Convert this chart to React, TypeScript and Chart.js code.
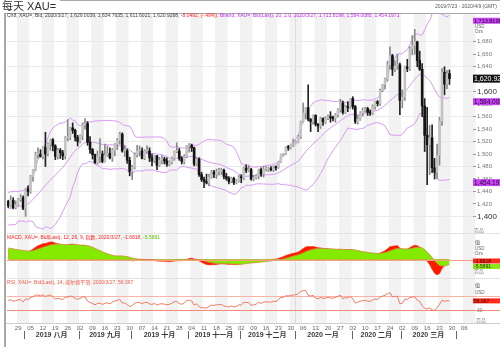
import React, { useEffect, useRef } from 'react';
import { Chart, registerables } from 'chart.js';

Chart.register(...registerables);

const FONT = '"Liberation Sans", "Noto Sans CJK SC", Arial, sans-serif';

// every weekday of the visible range is one slot on the x axis
const rangeStart = '2019-07-23';
const rangeEnd = '2020-04-09';

// closes before the visible range (2019-05-20 .. 2019-07-22), used only to seed the indicators
const warmupClose = [
  1277, 1273, 1274, 1283, 1284, 1285, 1279, 1280, 1288, 1305,
  1327, 1325, 1333, 1337, 1341, 1327, 1327, 1334, 1342, 1341, 1340, 1346, 1360, 1389, 1400, 1419, 1423, 1408, 1410, 1409,
  1385, 1410, 1418, 1416, 1400, 1395, 1397, 1419, 1404, 1415, 1413, 1405, 1426, 1446, 1426, 1424,
];

const openPrices = [
  1424, 1417, 1426, 1414, 1419, 1427, 1430, 1413, 1444, 1440,
  1464, 1474, 1500, 1500, 1496, 1511, 1500, 1516, 1523, 1513,
  1496, 1506, 1502, 1497, 1526, 1527, 1542, 1538, 1527, 1520,
  1529, 1547, 1549, 1519, 1507, 1499, 1486, 1497, 1500, 1488,
  1498, 1501, 1494, 1506, 1516, 1522, 1532, 1505, 1505, 1490,
  1472, 1479, 1499, 1505, 1505, 1493, 1505, 1505, 1494, 1489,
  1497, 1482, 1490, 1492, 1489, 1484, 1487, 1493, 1504, 1505,
  1493, 1488, 1496, 1513, 1514, 1510, 1484, 1492, 1467, 1459,
  1456, 1454, 1463, 1471, 1468, 1472, 1472, 1474, 1464, 1461,
  1456, 1461, 1454, 1457, 1463, 1462, 1477, 1474, 1475, 1460,
  1462, 1465, 1475, 1468, 1476, 1476, 1476, 1475, 1479, 1478,
  1487, 1499, 1500, 1511, 1510, 1515, 1517, 1519, 1528, 1552,
  1566, 1574, 1556, 1552, 1562, 1548, 1545, 1557, 1552, 1557,
  1560, 1558, 1557, 1563, 1571, 1582, 1567, 1576, 1575, 1589,
  1576, 1552, 1556, 1566, 1570, 1573, 1567, 1566, 1576, 1584,
  1581, 1602, 1611, 1620, 1643, 1658, 1636, 1641, 1643, 1586,
  1591, 1640, 1637, 1669, 1674, 1680, 1650, 1636, 1577, 1530,
  1515, 1526, 1478, 1471, 1498, 1553, 1631, 1612, 1629.0039,
];
const highPrices = [
  1426, 1433, 1430, 1425, 1429, 1435, 1433, 1445, 1449, 1466,
  1475, 1503, 1510, 1507, 1512, 1535, 1518, 1524, 1525, 1515,
  1509, 1509, 1506, 1528, 1555, 1543, 1550, 1540, 1530, 1531,
  1550, 1557, 1552, 1528, 1509, 1500, 1505, 1525, 1505, 1516,
  1513, 1510, 1509, 1517, 1525, 1535, 1534, 1514, 1508, 1495,
  1482, 1502, 1514, 1513, 1510, 1507, 1513, 1510, 1500, 1498,
  1498, 1495, 1498, 1495, 1494, 1489, 1495, 1505, 1518, 1509,
  1496, 1499, 1514, 1517, 1516, 1511, 1494, 1494, 1471, 1463,
  1468, 1468, 1474, 1474, 1476, 1477, 1477, 1476, 1469, 1464,
  1463, 1463, 1459, 1466, 1467, 1479, 1483, 1482, 1477, 1466,
  1467, 1476, 1478, 1480, 1480, 1479, 1480, 1481, 1481, 1488,
  1500, 1501, 1512, 1514, 1516, 1524, 1521, 1530, 1553, 1582,
  1575, 1611, 1557, 1563, 1563, 1549, 1559, 1558, 1560, 1563,
  1568, 1561, 1565, 1573, 1588, 1585, 1578, 1584, 1589, 1592,
  1578, 1562, 1568, 1574, 1575, 1575, 1571, 1579, 1585, 1586,
  1604, 1612, 1622, 1649, 1672, 1660, 1650, 1660, 1646, 1603,
  1641, 1652, 1672, 1690, 1700, 1681, 1665, 1645, 1589, 1575,
  1546, 1547, 1493, 1516, 1559, 1637, 1640, 1634, 1634.7635,
];
const lowPrices = [
  1414, 1415, 1412, 1412, 1417, 1424, 1411, 1400, 1433, 1437,
  1456, 1473, 1493, 1495, 1492, 1480, 1497, 1506, 1505, 1491,
  1492, 1493, 1491, 1492, 1521, 1523, 1533, 1521, 1513, 1518,
  1523, 1540, 1514, 1501, 1492, 1485, 1484, 1486, 1486, 1487,
  1496, 1492, 1488, 1497, 1507, 1516, 1503, 1496, 1485, 1465,
  1459, 1476, 1495, 1497, 1492, 1491, 1502, 1488, 1481, 1486,
  1475, 1480, 1484, 1484, 1480, 1481, 1484, 1490, 1502, 1490,
  1484, 1484, 1494, 1503, 1504, 1481, 1481, 1464, 1456, 1446,
  1452, 1449, 1461, 1462, 1461, 1466, 1467, 1460, 1458, 1452,
  1454, 1451, 1452, 1455, 1454, 1459, 1470, 1472, 1458, 1457,
  1460, 1460, 1464, 1463, 1473, 1472, 1473, 1472, 1474, 1477,
  1486, 1497, 1499, 1506, 1508, 1512, 1516, 1518, 1525, 1551,
  1556, 1553, 1536, 1548, 1545, 1536, 1541, 1546, 1549, 1555,
  1551, 1553, 1551, 1559, 1567, 1564, 1565, 1568, 1573, 1572,
  1549, 1548, 1554, 1561, 1567, 1562, 1562, 1563, 1572, 1577,
  1578, 1600, 1604, 1617, 1636, 1626, 1632, 1636, 1563, 1574,
  1586, 1632, 1634, 1659, 1660, 1640, 1634, 1560, 1504, 1451,
  1467, 1470, 1460, 1460, 1482, 1546, 1595, 1605, 1611.6021,
];
const closePrices = [
  1417, 1426, 1414, 1419, 1427, 1430, 1413, 1444, 1440, 1464,
  1474, 1500, 1500, 1496, 1511, 1500, 1516, 1523, 1513, 1496,
  1506, 1502, 1497, 1526, 1527, 1542, 1538, 1527, 1520, 1529,
  1547, 1549, 1519, 1507, 1499, 1486, 1497, 1500, 1488, 1498,
  1501, 1494, 1506, 1516, 1522, 1532, 1505, 1505, 1490, 1472,
  1479, 1499, 1505, 1505, 1493, 1505, 1505, 1494, 1489, 1497,
  1482, 1490, 1492, 1489, 1484, 1487, 1493, 1504, 1505, 1493,
  1488, 1496, 1513, 1514, 1510, 1484, 1492, 1467, 1459, 1456,
  1454, 1463, 1471, 1468, 1472, 1472, 1474, 1464, 1461, 1456,
  1461, 1454, 1457, 1463, 1462, 1477, 1474, 1475, 1460, 1462,
  1465, 1475, 1468, 1476, 1476, 1476, 1475, 1479, 1478, 1487,
  1499, 1500, 1511, 1510, 1515, 1517, 1519, 1528, 1552, 1566,
  1574, 1556, 1552, 1562, 1548, 1545, 1557, 1552, 1557, 1560,
  1558, 1557, 1563, 1571, 1582, 1567, 1576, 1575, 1589, 1576,
  1552, 1556, 1566, 1570, 1573, 1567, 1566, 1576, 1584, 1581,
  1602, 1611, 1620, 1643, 1658, 1636, 1641, 1643, 1586, 1591,
  1640, 1637, 1669, 1674, 1680, 1650, 1636, 1577, 1530, 1515,
  1526, 1478, 1471, 1498, 1553, 1631, 1612, 1629, 1620.9288,
];

const priceTicks = [1400, 1420, 1440, 1460, 1480, 1500, 1520, 1540, 1560, 1580, 1600, 1620, 1640, 1660, 1680];
const monthLabels = ['2019 八月', '2019 九月', '2019 十月', '2019 十一月', '2019 十二月', '2020 一月', '2020 二月', '2020 三月'];

const titleText = '每天 XAU=';
const rangeText = '2019/7/23 - 2020/4/9 (GMT)';
const priceLegend = 'Ch8, XAU=, Bid, 2020/3/27, 1,629.0039, 1,634.7635, 1,611.6021, 1,620.9288, ';
const changeLegend = '-8.0492, (-.49%), ';
const bandLegend = 'Bband, XAU=, Bid(Last), 20, 2.0, 2020/3/27, 1,713.8198, 1,584.0085, 1,454.1971';
const macdLegend = 'MACD, XAU=, Bid(Last), 12, 26, 9, 指数, 2020/3/27, -1.6818, ';
const signalLegend = '-5.5891';
const rsiLegend = 'RSI, XAU=, Bid(Last), 14, 威尔德平滑, 2020/3/27, 56.067';
const bandLast = [1713.8198, 1584.0085, 1454.1971];
const bandLastText = ['1,713.8198', '1,584.0085', '1,454.1971'];
const closeLast = 1620.9288;
const closeLastText = '1,620.92';
const macdLast = -1.6818;
const rsiLast = 56.067;
const rsiLevels = [70, 30];

// ---------- axis slots ----------
function buildDates() {
  const out: Date[] = [];
  const d = new Date(rangeStart + 'T00:00:00Z');
  const end = new Date(rangeEnd + 'T00:00:00Z');
  while (d <= end) {
    const w = d.getUTCDay();
    if (w !== 0 && w !== 6) out.push(new Date(d.getTime()));
    d.setUTCDate(d.getUTCDate() + 1);
  }
  return out;
}
const dates = buildDates();
const N = dates.length;
const labels = dates.map((d) => d.toISOString().slice(0, 10));
const mondays: number[] = [];
dates.forEach((d, i) => { if (d.getUTCDay() === 1) mondays.push(i); });
const monthStarts: number[] = [];
dates.forEach((d, i) => { if (i > 0 && d.getUTCMonth() !== dates[i - 1].getUTCMonth()) monthStarts.push(i); });
const yearStart = dates.findIndex((d) => d.getUTCFullYear() === 2020);

// ---------- indicators named in the chart legends ----------
const full = [...warmupClose, ...closePrices];
const W = warmupClose.length;
const padN = (a: any[]) => { const o: any[] = new Array(N).fill(null); a.forEach((v, i) => { o[i] = v; }); return o; };

const bbU: number[] = [], bbM: number[] = [], bbL: number[] = [];
closePrices.forEach((_, i) => {
  const j = W + i;
  const win = full.slice(j - 19, j + 1);
  const m = win.reduce((s, v) => s + v, 0) / 20;
  const sd = Math.sqrt(win.reduce((s, v) => s + (v - m) * (v - m), 0) / 20);
  bbM.push(m); bbU.push(m + 2 * sd); bbL.push(m - 2 * sd);
});

let e12 = full[0], e26 = full[0];
const macdFull: number[] = [];
full.forEach((v) => { e12 = v * (2 / 13) + e12 * (11 / 13); e26 = v * (2 / 27) + e26 * (25 / 27); macdFull.push(e12 - e26); });
let sg = macdFull[0];
const sigFull: number[] = [];
macdFull.forEach((v) => { sg = v * 0.2 + sg * 0.8; sigFull.push(sg); });
const macdVals = macdFull.slice(W);
const sigVals = sigFull.slice(W);

const rsiFull: (number | null)[] = [];
let ag = 0, al = 0;
for (let i = 0; i < full.length; i++) {
  if (i === 0) { rsiFull.push(null); continue; }
  const ch = full[i] - full[i - 1];
  const g = Math.max(ch, 0), l = Math.max(-ch, 0);
  if (i <= 14) { ag += g / 14; al += l / 14; rsiFull.push(i === 14 ? 100 - 100 / (1 + ag / al) : null); }
  else { ag = (ag * 13 + g) / 14; al = (al * 13 + l) / 14; rsiFull.push(100 - 100 / (1 + ag / al)); }
}
const rsiVals = rsiFull.slice(W);

const upCandle = closePrices.map((c, i) => c >= openPrices[i]);

const decorPlugin: any = {
  id: 'decor',
  beforeDraw(chart: any) {
    const { ctx, chartArea: ca } = chart;
    const slot = (ca.right - ca.left) / N;
    ctx.save();
    ctx.fillStyle = '#ffffff';
    ctx.fillRect(0, 0, chart.width, chart.height);
    ctx.fillStyle = '#f2f2f2';
    mondays.forEach((m, k) => { if (k % 2 === 0) ctx.fillRect(ca.left + m * slot, ca.top, 5 * slot, ca.bottom - ca.top); });
    ctx.fillStyle = '#dcdcdc';
    ctx.fillRect(Math.round(ca.left + yearStart * slot), ca.top, 1, ca.bottom - ca.top);
    const my = chart.scales.macd, ry = chart.scales.rsi;
    ctx.fillStyle = '#e2e2e2';
    ctx.fillRect(ca.left, Math.round(my.top), chart.width - ca.left, 1);
    ctx.fillRect(ca.left, Math.round(ry.top), chart.width - ca.left, 1);
    ctx.restore();
  },
  beforeDatasetsDraw(chart: any) {
    const { ctx, chartArea: ca } = chart;
    const ry = chart.scales.rsi;
    ctx.save();
    rsiLevels.forEach((lv, k) => {
      ctx.fillStyle = k === 0 ? '#f7b3a6' : '#f28b78';
      ctx.fillRect(ca.left, Math.round(ry.getPixelForValue(lv)), chart.width - ca.left, 1);
    });
    ctx.restore();
  },
  afterDatasetsDraw(chart: any) {
    const { ctx, chartArea: ca } = chart;
    const my = chart.scales.macd;
    ctx.save();
    ctx.fillStyle = '#f3a27f';
    ctx.fillRect(ca.left, Math.round(my.getPixelForValue(0)), chart.width - ca.left, 1);
    ctx.restore();
  },
  afterDraw(chart: any) {
    const { ctx, chartArea: ca } = chart;
    const slot = (ca.right - ca.left) / N;
    const y = chart.scales.y, my = chart.scales.macd, ry = chart.scales.rsi;
    ctx.save();
    const txt = (s: string, x: number, yy: number, font: string, color: string, align: any = 'left') => {
      ctx.font = font; ctx.fillStyle = color; ctx.textAlign = align; ctx.textBaseline = 'middle'; ctx.fillText(s, x, yy);
      return ctx.measureText(s).width;
    };
    const box = (yy: number, h: number, bg: string, s: string, font: string, color: string) => {
      ctx.fillStyle = bg; ctx.fillRect(473, yy - h / 2, 27, h);
      txt(s, 474, yy + 0.4, font, color);
    };
    // frame
    ctx.fillStyle = '#a8a8a8';
    ctx.fillRect(4, 13, 2, chart.height - 13);
    ctx.fillRect(4, 13, chart.width - 4, 1);
    ctx.fillRect(60, 0, chart.width - 60, 1);
    ctx.fillStyle = '#cfcfcf';
    ctx.fillRect(6, ca.bottom, chart.width - 6, 1);

    // header
    txt(titleText, 2, 6.5, '11px ' + FONT, '#333');
    txt(rangeText, 497, 6.5, '5px ' + FONT, '#555', 'right');
    let x = 7;
    x += txt(priceLegend, x, 15.5, '5px ' + FONT, '#444');
    x += txt(changeLegend, x, 15.5, '5px ' + FONT, '#ff2020');
    txt(bandLegend, x, 15.5, '5px ' + FONT, '#c030f0');
    x = 7;
    x += txt(macdLegend, x, my.top + 5, '5px ' + FONT, '#ff2020');
    txt(signalLegend, x, my.top + 5, '5px ' + FONT, '#5cc000');
    txt(rsiLegend, 7, ry.top + 5, '5px ' + FONT, '#f05a45');

    // right side of the price panel
    txt('USD', 475, 27, '4.5px ' + FONT, '#666');
    txt('Ozs', 475, 31.5, '4.5px ' + FONT, '#666');
    box(y.getPixelForValue(bandLast[0]), 6, '#c846f0', bandLastText[0], '5.5px ' + FONT, '#2a0040');
    box(y.getPixelForValue(closeLast), 8, '#111111', closeLastText, '7px ' + FONT, '#ffffff');
    box(y.getPixelForValue(bandLast[1]), 7, '#c846f0', bandLastText[1], '6.5px ' + FONT, '#2a0040');
    box(y.getPixelForValue(bandLast[2]), 7, '#c846f0', bandLastText[2], '6.5px ' + FONT, '#2a0040');

    // right side of the MACD panel
    txt('百品', 474, my.top - 2, '5px ' + FONT, '#888');
    txt('值', 475, my.top + 10, '5px ' + FONT, '#444');
    txt('USD', 475, my.top + 16, '4.5px ' + FONT, '#666');
    txt('Ozs', 475, my.top + 21, '4.5px ' + FONT, '#666');
    const mY = my.getPixelForValue(macdLast);
    box(mY + 0.5, 5, '#ff2a1a', '-1.6818', '5px ' + FONT, '#3a0000');
    box(mY + 6, 5, '#8ee51a', '-5.5891', '5px ' + FONT, '#1d3a00');
    txt('百品', 474, my.bottom - 6, '5px ' + FONT, '#888');

    // right side of the RSI panel
    txt('值', 475, ry.top + 8, '5px ' + FONT, '#444');
    txt('USD', 475, ry.top + 14.5, '4.5px ' + FONT, '#666');
    box(ry.getPixelForValue(rsiLast), 5, '#ff2a1a', '56.067', '5px ' + FONT, '#3a0000');
    txt('30', 477, ry.getPixelForValue(30) + 1, '5px ' + FONT, '#777');
    txt('百品', 476, ry.bottom - 2, '5px ' + FONT, '#888');

    // month row
    ctx.fillStyle = '#666';
    monthStarts.forEach((m) => { ctx.fillRect(Math.round(ca.left + m * slot), ca.bottom + 8, 1, 8); });
    monthLabels.forEach((s, k) => {
      const a = ca.left + monthStarts[k] * slot, b = ca.left + monthStarts[k + 1] * slot;
      txt(s, (a + b) / 2, ca.bottom + 12, 'bold 7px ' + FONT, '#3a3a3a', 'center');
    });
    ctx.restore();
  },
};

export default function App() {
  const ref = useRef<HTMLCanvasElement>(null);
  useEffect(() => {
    document.body.style.margin = '0';
    const wickColors = upCandle.map((u) => (u ? '#8a8a8a' : '#222222'));
    const bodyColors = upCandle.map((u) => (u ? '#c4c4c4' : '#141414'));
    const chart = new Chart(ref.current as HTMLCanvasElement, {
      type: 'bar',
      data: {
        labels,
        datasets: [
          { type: 'bar', data: padN(closePrices.map((_, i) => [openPrices[i], closePrices[i]])), backgroundColor: bodyColors, barThickness: 2, grouped: false, minBarLength: 1, yAxisID: 'y', order: 0 } as any,
          { type: 'bar', data: padN(closePrices.map((_, i) => [lowPrices[i], highPrices[i]])), backgroundColor: wickColors, barThickness: 1, grouped: false, yAxisID: 'y', order: 1 } as any,
          { type: 'line', data: padN(bbU), borderColor: '#d79af5', borderWidth: 1, pointRadius: 0, fill: false, yAxisID: 'y', order: 2 } as any,
          { type: 'line', data: padN(bbM), borderColor: '#d79af5', borderWidth: 1, pointRadius: 0, fill: false, yAxisID: 'y', order: 2 } as any,
          { type: 'line', data: padN(bbL), borderColor: '#d79af5', borderWidth: 1, pointRadius: 0, fill: false, yAxisID: 'y', order: 2 } as any,
          { type: 'line', data: padN(macdVals), borderColor: '#ff1a00', backgroundColor: '#ff1a00', borderWidth: 0.6, pointRadius: 0, fill: 'origin', yAxisID: 'macd', order: 4 } as any,
          { type: 'line', data: padN(sigVals), borderColor: '#d08a40', backgroundColor: '#84ea00', borderWidth: 0.8, pointRadius: 0, fill: 'origin', yAxisID: 'macd', order: 3 } as any,
          { type: 'line', data: padN(rsiVals), borderColor: '#f27a62', borderWidth: 1, pointRadius: 0, fill: false, yAxisID: 'rsi', order: 2 } as any,
        ],
      },
      options: {
        animation: false,
        responsive: false,
        devicePixelRatio: 1,
        layout: { padding: { left: 7, top: 13, right: 0, bottom: 0 } },
        plugins: { legend: { display: false }, tooltip: { enabled: false } },
        scales: {
          x: {
            type: 'category', offset: true,
            grid: { display: false, drawTicks: false }, border: { display: false },
            ticks: {
              autoSkip: false, maxRotation: 0, minRotation: 0, padding: 1.5,
              font: { size: 6, family: FONT }, color: '#666',
              callback: (_v: any, i: number) => (dates[i].getUTCDay() === 1 ? labels[i].slice(8, 10) : ''),
            },
            afterFit: (s: any) => { s.height = 24; },
          },
          y: {
            position: 'right', stack: 'panes', stackWeight: 220, min: 1373.4, max: 1726.2,
            afterBuildTicks: (ax: any) => { ax.ticks = priceTicks.map((v) => ({ value: v })); },
            afterFit: (s: any) => { s.width = 27; },
            border: { display: false },
            grid: {
              color: (c: any) => (c.tick && c.tick.value % 40 === 0 ? '#e9e9e9' : 'rgba(0,0,0,0)'),
              tickColor: '#999', tickLength: 3, lineWidth: 1,
            },
            ticks: {
              autoSkip: false, padding: 1,
              font: (c: any) => ({ size: c.tick && c.tick.value % 200 === 0 ? 8 : 6, family: FONT }),
              color: (c: any) => (c.tick && c.tick.value % 200 === 0 ? '#333' : '#777'),
              callback: (v: any) => Number(v).toLocaleString('en-US'),
            },
          },
          macd: {
            position: 'right', stack: 'panes', stackWeight: 45,
            min: -31.9, max: 45.7,
            afterFit: (s: any) => { s.width = 27; },
            border: { display: false }, grid: { display: false }, ticks: { display: false },
          },
          rsi: {
            position: 'right', stack: 'panes', stackWeight: 45, min: -7.1, max: 121.4,
            afterFit: (s: any) => { s.width = 27; },
            border: { display: false }, grid: { display: false }, ticks: { display: false },
          },
        } as any,
      } as any,
      plugins: [decorPlugin],
    } as any);
    return () => chart.destroy();
  }, []);
  return (
    <div style={{ width: 500, height: 347, position: 'relative', overflow: 'hidden', background: '#fff' }}>
      <canvas ref={ref} width={500} height={347} style={{ display: 'block', width: 500, height: 347 }} />
    </div>
  );
}
